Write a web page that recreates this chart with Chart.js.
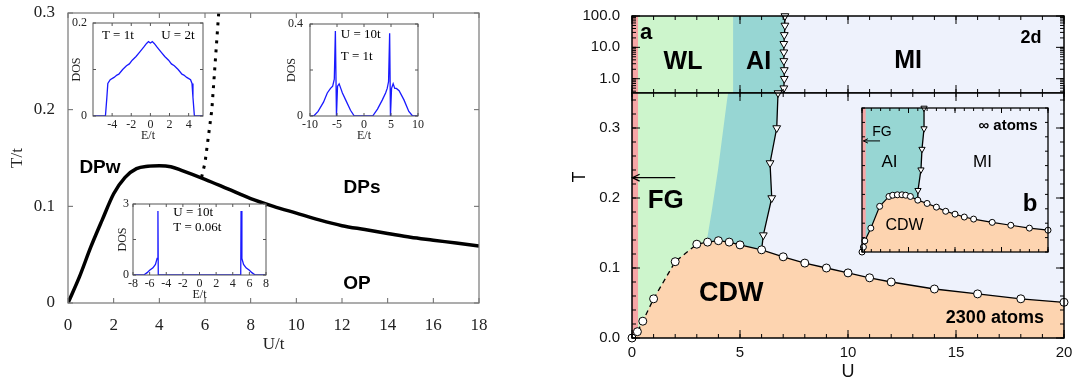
<!DOCTYPE html>
<html>
<head>
<meta charset="utf-8">
<script src="https://cdn.jsdelivr.net/npm/chart.js@4"></script>
<style>
  body { margin: 0; width: 1088px; height: 383px; background: #fff; position: relative; overflow: hidden; }
  canvas { position: absolute; }
</style>
</head>
<body>
<canvas id="cLeft" style="left:0px;top:0px" width="500" height="383"></canvas>
<canvas id="cIn1" style="left:55px;top:15px" width="160" height="130"></canvas>
<canvas id="cIn2" style="left:265px;top:15px" width="165" height="130"></canvas>
<canvas id="cIn3" style="left:90px;top:195px" width="190" height="112"></canvas>
<canvas id="cTop" style="left:560px;top:0px" width="528" height="100"></canvas>
<canvas id="cBot" style="left:560px;top:80px" width="528" height="303"></canvas>
<canvas id="cInB" style="left:850px;top:100px" width="210" height="162"></canvas>
<script>
// ---------- LEFT PANEL : T/t vs U/t ----------
const phaseU = [0, 0.5, 1, 1.5, 2, 2.5, 3, 3.5, 4, 4.5, 5, 6, 7, 8, 9, 10, 11, 12, 13, 14, 15, 16, 17, 18];
const phaseT = [0, 0.027, 0.058, 0.086, 0.113, 0.130, 0.139, 0.1415, 0.142, 0.141, 0.137, 0.128, 0.118, 0.108, 0.100, 0.093, 0.086, 0.080, 0.076, 0.072, 0.068, 0.065, 0.062, 0.059];
const dotU = [5.85, 6.0, 6.3, 6.6];
const dotT = [0.13, 0.145, 0.2, 0.3];
const leftUTicks = [0, 2, 4, 6, 8, 10, 12, 14, 16, 18];
const leftTTicks = [0, 0.1, 0.2, 0.3];

// DOS insets (E/t, DOS)
const dos1E = [-6, -4.7, -4.55, -4.45, -4.2, -3.8, -3.5, -3.3, -2.9, -2.5, -2.2, -1.9, -1.5, -1.1, -0.7, -0.4, -0.2, 0, 0.2, 0.4, 0.7, 1.1, 1.5, 1.9, 2.2, 2.5, 2.9, 3.3, 3.5, 3.8, 4.2, 4.35, 4.45, 4.6, 5.5];
const dos1V = [0, 0, 0.04, 0.07, 0.078, 0.083, 0.088, 0.09, 0.1, 0.108, 0.112, 0.12, 0.128, 0.138, 0.148, 0.156, 0.16, 0.157, 0.16, 0.156, 0.148, 0.138, 0.128, 0.12, 0.112, 0.108, 0.1, 0.09, 0.088, 0.083, 0.078, 0.07, 0.04, 0, 0];
const dos2E = [-10, -9.3, -8.5, -7.5, -6.8, -6.2, -5.8, -5.5, -5.3, -5.1, -4.9, -4.6, -4.3, -4.0, -3.4, -2.5, -1.8, 0, 1.6, 2.5, 3.4, 4.0, 4.3, 4.55, 4.75, 4.9, 5.1, 5.4, 5.7, 6.0, 6.5, 7.4, 8.3, 9.0, 10];
const dos2V = [0, 0, 0.02, 0.06, 0.1, 0.12, 0.13, 0.16, 0.37, 0, 0.13, 0.14, 0.12, 0.1, 0.07, 0.025, 0, 0, 0, 0.03, 0.07, 0.1, 0.12, 0.15, 0.36, 0, 0.12, 0.14, 0.12, 0.12, 0.11, 0.07, 0.02, 0, 0];
const dos3E = [-8, -6.7, -6.3, -6.0, -5.6, -5.3, -5.1, -5.0, -4.96, 0, 4.96, 5.0, 5.1, 5.3, 5.6, 6.0, 6.3, 6.7, 8];
const dos3V = [0, 0, 0.1, 0.2, 0.3, 0.45, 0.7, 2.7, 0, 0, 0, 2.7, 0.7, 0.45, 0.3, 0.2, 0.1, 0, 0];
const in1ETicks = [-4, -2, 0, 2, 4];
const in2ETicks = [-10, -5, 0, 5, 10];
const in3ETicks = [-8, -6, -4, -2, 0, 2, 4, 6, 8];

// ---------- RIGHT PANEL : T vs U ----------
const cdwU = [0, 0.25, 0.5, 1, 2, 3, 3.5, 4, 4.5, 5, 6, 7, 8, 9, 10, 11, 12, 14, 16, 18, 20];
const cdwT = [0, 0.009, 0.024, 0.056, 0.109, 0.134, 0.137, 0.139, 0.137, 0.133, 0.126, 0.116, 0.107, 0.100, 0.093, 0.086, 0.080, 0.070, 0.063, 0.056, 0.051];
const triTopU = [7.08, 7.08, 7.05, 7.03, 7.03, 7.03, 7.05, 7.05, 7.03];
const triTopT = [100, 50, 25, 13, 7, 3.7, 1.9, 1, 0.5];
const triBotU = [6.76, 6.70, 6.39, 6.47, 6.08];
const triBotT = [0.35, 0.30, 0.25, 0.20, 0.147];
const wlEdgeU = [4.45, 4.40, 3.98, 3.70, 3.47, 3.2, 3.2];
const wlEdgeT = [0.35, 0.34, 0.24, 0.183, 0.14, 0.1, 0];
const wlTopEdge = 4.68;
const fgEdge = 0.28;
// inset b (infinite system)
const insU = [0, 0.15, 0.3, 0.95, 1.9, 2.9, 3.3, 3.8, 4.3, 4.7, 5.2, 6, 7, 8, 9, 10, 11, 12, 14, 16, 18, 20];
const insT = [0, 0.012, 0.027, 0.058, 0.111, 0.135, 0.138, 0.139, 0.139, 0.138, 0.135, 0.126, 0.118, 0.109, 0.099, 0.092, 0.085, 0.080, 0.072, 0.065, 0.058, 0.053];
const insTriU = [6.67, 6.67, 6.45, 6.34, 6.02];
const insTriT = [0.35, 0.30, 0.25, 0.20, 0.15];
const insFgEdge = 0.4;
const rightUTicks = [0, 5, 10, 15, 20];
const rightTTicks = [0, 0.1, 0.2, 0.3];
const topTTicks = [1, 10, 100];

// colours
const cWL = '#cdf5cc', cAI = '#97d6d3', cMI = '#eef2fc', cFG = '#f6a6a6', cCDW = '#fdd4b0';
const blue = '#1a1aff';

// ---------- helpers ----------
const zip = (xs, ys) => xs.map((x, i) => ({ x, y: ys[i] }));
const pts = arr => arr.map(([x, y]) => ({ x, y }));
function range(a, b, st) { const out = []; for (let v = a; v <= b + st / 1000; v += st) out.push(+v.toFixed(6)); return out; }
function logTicks(lo, hi) {
  const out = [];
  for (let d = 0.1; d < hi; d *= 10)
    for (let m = 1; m < 10; m++) { const v = +(m * d).toPrecision(3); if (v >= lo && v <= hi) out.push(v); }
  out.push(hi);
  return out;
}
// fixed axis sizes, no extra layout padding from the labels
const fixW = w => s => { s.width = w; s.paddingTop = 0; s.paddingBottom = 0; };
const fixH = h => s => { s.height = h; s.paddingLeft = 0; s.paddingRight = 0; };
const setTicks = arr => s => { s.ticks = arr.map(v => ({ value: v })); };
const tk = (axis, values, len) => ({ axis, values, len });
const region = (data, color) => ({ data, fill: 'shape', backgroundColor: color, borderColor: 'rgba(0,0,0,0)', borderWidth: 0, pointRadius: 0 });
const area = (data, color) => ({ data, fill: 'origin', backgroundColor: color, borderColor: 'rgba(0,0,0,0)', borderWidth: 0, pointRadius: 0 });

// inward ticks + frame
const inTicks = {
  id: 'inTicks',
  afterDatasetsDraw(chart, args, o) {
    if (!o || !o.list) return;
    const { ctx, chartArea: a } = chart;
    ctx.save();
    ctx.strokeStyle = o.color || '#000';
    ctx.lineWidth = o.width || 1;
    for (const t of o.list) {
      const s = chart.scales[t.axis];
      for (const v of t.values) {
        const p = s.getPixelForValue(v);
        ctx.beginPath();
        if (t.axis === 'x') {
          ctx.moveTo(p, a.bottom); ctx.lineTo(p, a.bottom - t.len);
          ctx.moveTo(p, a.top); ctx.lineTo(p, a.top + t.len);
        } else {
          ctx.moveTo(a.left, p); ctx.lineTo(a.left + t.len, p);
          ctx.moveTo(a.right, p); ctx.lineTo(a.right - t.len, p);
        }
        ctx.stroke();
      }
    }
    ctx.strokeStyle = o.box || '#000';
    ctx.lineWidth = o.boxWidth || 1;
    ctx.strokeRect(a.left, a.top, a.width, a.height);
    ctx.restore();
  }
};

// white plot background for insets
const plotBg = {
  id: 'plotBg',
  beforeDraw(chart, args, o) {
    if (!o || !o.color) return;
    const { ctx, chartArea: a } = chart;
    ctx.save(); ctx.fillStyle = o.color; ctx.fillRect(a.left, a.top, a.width, a.height); ctx.restore();
  }
};

// text labels and arrows
const notes = {
  id: 'notes',
  afterDraw(chart, args, o) {
    if (!o) return;
    const { ctx } = chart;
    const sx = chart.scales.x, sy = chart.scales.y;
    ctx.save();
    (o.arrows || []).forEach(a => {
      const x1 = sx.getPixelForValue(a.from[0]), y1 = sy.getPixelForValue(a.from[1]);
      const x2 = sx.getPixelForValue(a.to[0]), y2 = sy.getPixelForValue(a.to[1]);
      ctx.strokeStyle = '#000'; ctx.lineWidth = a.w || 1.2;
      ctx.beginPath(); ctx.moveTo(x1, y1); ctx.lineTo(x2, y2); ctx.stroke();
      const ang = Math.atan2(y2 - y1, x2 - x1), h = a.head || 7;
      ctx.beginPath();
      ctx.moveTo(x2 - h * Math.cos(ang - 0.45), y2 - h * Math.sin(ang - 0.45));
      ctx.lineTo(x2, y2);
      ctx.lineTo(x2 - h * Math.cos(ang + 0.45), y2 - h * Math.sin(ang + 0.45));
      ctx.stroke();
    });
    (o.items || []).forEach(n => {
      const px = n.px ? n.px[0] : sx.getPixelForValue(n.at[0]);
      const py = n.px ? n.px[1] : sy.getPixelForValue(n.at[1]);
      ctx.save();
      ctx.font = n.font; ctx.fillStyle = n.color || '#000';
      ctx.textAlign = n.align || 'center'; ctx.textBaseline = 'middle';
      ctx.translate(px, py);
      if (n.rot) ctx.rotate(n.rot);
      ctx.fillText(n.text, 0, 0);
      ctx.restore();
    });
    ctx.restore();
  }
};

Chart.register(inTicks, plotBg, notes);

const serif = 'Liberation Serif', sans = 'Liberation Sans';
const base = (pad, plugins, scales) => ({
  responsive: false, animation: false, events: [],
  layout: { padding: pad },
  plugins: Object.assign({ legend: { display: false }, tooltip: { enabled: false } }, plugins),
  scales
});
const noGrid = { grid: { display: false, drawTicks: false }, border: { display: false } };

// ---------- left main ----------
new Chart(document.getElementById('cLeft'), {
  type: 'line',
  data: { datasets: [
    { data: zip(phaseU, phaseT), borderColor: '#000', borderWidth: 3.5, pointRadius: 0, cubicInterpolationMode: 'monotone', fill: false },
    { data: zip(dotU, dotT), borderColor: '#000', borderWidth: 3, borderDash: [3, 6], pointRadius: 0, fill: false }
  ] },
  options: base({ left: 0, top: 13, right: 21, bottom: 25 }, {
    inTicks: { list: [tk('x', leftUTicks, 5), tk('y', leftTTicks, 5)], color: '#666', box: '#777', boxWidth: 1.2 },
    notes: { items: [
      { text: 'DPw', at: [1.4, 0.140], font: 'bold 19px "Liberation Sans"' },
      { text: 'DPs', at: [12.88, 0.119], font: 'bold 19px "Liberation Sans"' },
      { text: 'OP', at: [12.66, 0.0197], font: 'bold 19px "Liberation Sans"' }
    ] }
  }, {
    x: Object.assign({ type: 'linear', min: 0, max: 18, afterFit: fixH(55), afterBuildTicks: setTicks(leftUTicks),
      ticks: { font: { family: serif, size: 17 }, color: '#222', padding: 12, maxRotation: 0, autoSkip: false },
      title: { display: true, text: 'U/t', font: { family: serif, size: 17 }, color: '#222', padding: { top: 0, bottom: 3 } } }, noGrid),
    y: Object.assign({ min: 0, max: 0.3, afterFit: fixW(68), afterBuildTicks: setTicks(leftTTicks),
      ticks: { font: { family: serif, size: 17 }, color: '#222', padding: 13, callback: v => String(+v.toFixed(2)) },
      title: { display: true, text: 'T/t', font: { family: serif, size: 17 }, color: '#222', padding: { top: 7, bottom: 0 } } }, noGrid)
  })
});

// ---------- DOS insets ----------
function dosInset(id, E, V, xr, xt, ymax, pad, yw, xh, tickPad, titlePad, items) {
  new Chart(document.getElementById(id), {
    type: 'line',
    data: { datasets: [{ data: zip(E, V), borderColor: blue, borderWidth: 1.3, pointRadius: 0, fill: false }] },
    options: base(pad, {
      plotBg: { color: '#fff' },
      inTicks: { list: [tk('x', xt, 3), tk('y', [0, ymax / 2, ymax], 3)], color: '#555', box: '#555', boxWidth: 1 },
      notes: { items }
    }, {
      x: Object.assign({ type: 'linear', min: xr[0], max: xr[1], afterFit: fixH(xh), afterBuildTicks: setTicks(xt),
        ticks: { font: { family: serif, size: 12 }, color: '#222', padding: 2, maxRotation: 0, autoSkip: false },
        title: { display: true, text: 'E/t', font: { family: serif, size: 12 }, color: '#222', padding: { top: 0, bottom: titlePad[1] } } }, noGrid),
      y: Object.assign({ min: 0, max: ymax, afterFit: fixW(yw), afterBuildTicks: setTicks([0, ymax]),
        ticks: { font: { family: serif, size: 12 }, color: '#222', padding: tickPad, callback: v => String(v) },
        title: { display: true, text: 'DOS', font: { family: serif, size: 12 }, color: '#222', padding: { top: titlePad[0], bottom: 0 } } }, noGrid)
    })
  });
}
const insetFont = '13px "Liberation Serif"';
dosInset('cIn1', dos1E, dos1V, [-6, 5.5], in1ETicks, 0.2, { left: 0, top: 8, right: 12, bottom: 1 }, 38, 28, 6, [15, 1], [
  { text: 'T = 1t', at: [-3.4, 0.172], font: insetFont },
  { text: 'U = 2t', at: [2.87, 0.172], font: insetFont }
]);
dosInset('cIn2', dos2E, dos2V, [-10, 10], in2ETicks, 0.4, { left: 0, top: 9, right: 12, bottom: 1 }, 45, 28, 7, [20, 1], [
  { text: 'U = 10t', at: [-4.3, 0.352], font: insetFont, align: 'left' },
  { text: 'T = 1t', at: [-4.3, 0.259], font: insetFont, align: 'left' }
]);
dosInset('cIn3', dos3E, dos3V, [-8, 8], in3ETicks, 3, { left: 0, top: 9, right: 14, bottom: 1 }, 43, 31, 4, [26, 4], [
  { text: 'U = 10t', at: [-3.15, 2.62], font: insetFont, align: 'left' },
  { text: 'T = 0.06t', at: [-3.15, 1.99], font: insetFont, align: 'left' }
]);

// ---------- right top (log T) ----------
const triStyle = {
  borderColor: '#000', borderWidth: 1.3, pointStyle: 'triangle', rotation: 180,
  pointBackgroundColor: '#fff', pointBorderColor: '#000', pointBorderWidth: 1, fill: false, clip: false
};
const topLine = zip(triTopU, triTopT).concat([{ x: triBotU[0], y: triBotT[0] }]);
new Chart(document.getElementById('cTop'), {
  type: 'line',
  data: { datasets: [
    Object.assign({ data: topLine, pointRadius: c => c.dataIndex === topLine.length - 1 ? 0 : 4.5 }, triStyle),
    region(pts([[0, 0.35], [fgEdge, 0.35], [fgEdge, 100], [0, 100]]), cFG),
    region(pts([[0, 0.35], [wlTopEdge, 0.35], [wlTopEdge, 100], [0, 100]]), cWL),
    region([{ x: 0, y: 100 }].concat(topLine, [{ x: 0, y: 0.35 }]), cAI),
    region(pts([[0, 0.35], [20, 0.35], [20, 100], [0, 100]]), cMI)
  ] },
  options: base({ left: 0, top: 16, right: 24, bottom: 7 }, {
    inTicks: { list: [tk('x', range(0, 20, 1), 4), tk('x', rightUTicks, 8), tk('y', logTicks(0.35, 100), 4), tk('y', topTTicks, 8)], color: '#000', box: '#000', boxWidth: 1.5 },
    notes: { items: [
      { text: 'a', at: [0.65, 28.7], font: 'bold 22px "Liberation Sans"' },
      { text: 'WL', at: [2.36, 3.41], font: 'bold 25px "Liberation Sans"' },
      { text: 'AI', at: [5.86, 3.41], font: 'bold 25px "Liberation Sans"' },
      { text: 'MI', at: [12.78, 3.67], font: 'bold 25px "Liberation Sans"' },
      { text: '2d', at: [18.47, 19.9], font: 'bold 18px "Liberation Sans"' }
    ] }
  }, {
    x: { type: 'linear', min: 0, max: 20, display: false },
    y: Object.assign({ type: 'logarithmic', min: 0.35, max: 100, afterFit: fixW(72), afterBuildTicks: setTicks(topTTicks),
      ticks: { font: { family: sans, size: 15 }, color: '#111', padding: 12, callback: v => Number(v).toFixed(1) } }, noGrid)
  })
});

// ---------- right bottom (linear T) ----------
const joint = { x: cdwU[10], y: cdwT[10] };
const botLine = zip(triBotU, triBotT).concat([joint]);
const circleStyle = {
  borderColor: '#000', borderWidth: 1.3, pointRadius: 4, pointBackgroundColor: '#fff',
  pointBorderColor: '#000', pointBorderWidth: 1, clip: false, fill: false
};
new Chart(document.getElementById('cBot'), {
  type: 'line',
  data: { datasets: [
    Object.assign({ data: zip(cdwU, cdwT), segment: { borderDash: c => c.p1.parsed.x <= 3 ? [5, 4] : undefined } }, circleStyle),
    Object.assign({ data: botLine, pointRadius: c => c.dataIndex === botLine.length - 1 ? 0 : 4.5 }, triStyle),
    area(zip(cdwU, cdwT), cCDW),
    region(pts([[0, 0], [fgEdge, 0], [fgEdge, 0.35], [0, 0.35]]), cFG),
    region([{ x: 0, y: 0.35 }].concat(zip(wlEdgeU, wlEdgeT), [{ x: 0, y: 0 }]), cWL),
    region([{ x: 0, y: 0.35 }].concat(botLine, [{ x: joint.x, y: 0 }, { x: 0, y: 0 }]), cAI),
    region(pts([[0, 0], [20, 0], [20, 0.35], [0, 0.35]]), cMI)
  ] },
  options: base({ left: 0, top: 13, right: 24, bottom: 0 }, {
    inTicks: { list: [tk('x', range(0, 20, 1), 4), tk('x', rightUTicks, 8), tk('y', range(0, 0.34, 0.02), 4), tk('y', rightTTicks, 8)], color: '#000', box: '#000', boxWidth: 1.5 },
    notes: {
      arrows: [{ from: [2.0, 0.229], to: [0.02, 0.229], w: 1.3, head: 8 }],
      items: [
        { text: 'FG', at: [1.56, 0.196], font: 'bold 26px "Liberation Sans"' },
        { text: 'CDW', at: [4.6, 0.064], font: 'bold 27px "Liberation Sans"' },
        { text: '2300 atoms', at: [16.8, 0.028], font: 'bold 18px "Liberation Sans"' },
        { text: 'T', px: [20, 97], font: '18px "Liberation Sans"', rot: -Math.PI / 2 }
      ] }
  }, {
    x: Object.assign({ type: 'linear', min: 0, max: 20, afterFit: fixH(45), afterBuildTicks: setTicks(rightUTicks),
      ticks: { font: { family: sans, size: 15 }, color: '#111', padding: 6, maxRotation: 0, autoSkip: false },
      title: { display: true, text: 'U', font: { family: sans, size: 18 }, color: '#111', padding: { top: 0, bottom: 0 } } }, noGrid),
    y: Object.assign({ min: 0, max: 0.35, afterFit: fixW(72), afterBuildTicks: setTicks(rightTTicks),
      ticks: { font: { family: sans, size: 15 }, color: '#111', padding: 12, callback: v => Number(v).toFixed(1) } }, noGrid)
  })
});

// ---------- inset b ----------
const insJoint = { x: insU[11], y: insT[11] };
const insLine = zip(insTriU, insTriT).concat([insJoint]);
new Chart(document.getElementById('cInB'), {
  type: 'line',
  data: { datasets: [
    Object.assign({ data: zip(insU, insT) }, circleStyle, { pointRadius: 3, borderWidth: 1.2 }),
    Object.assign({ data: insLine }, triStyle, { pointRadius: c => c.dataIndex === insLine.length - 1 ? 0 : 3.6 }),
    area(zip(insU, insT), cCDW),
    region(pts([[0, 0], [insFgEdge, 0], [insFgEdge, 0.35], [0, 0.35]]), cFG),
    region([{ x: 0, y: 0.35 }].concat(insLine, [{ x: insJoint.x, y: 0 }, { x: 0, y: 0 }]), cAI),
    region(pts([[0, 0], [20, 0], [20, 0.35], [0, 0.35]]), cMI)
  ] },
  options: base({ left: 12, top: 8, right: 12, bottom: 10 }, {
    inTicks: { list: [tk('x', range(0, 20, 1), 3), tk('x', rightUTicks, 5), tk('y', range(0, 0.35, 0.035), 3)], color: '#000', box: '#000', boxWidth: 1.3 },
    notes: {
      arrows: [{ from: [1.94, 0.27], to: [0.15, 0.27], w: 1, head: 5 }],
      items: [
        { text: 'FG', at: [2.15, 0.292], font: '14px "Liberation Sans"' },
        { text: 'AI', at: [2.96, 0.217], font: '17px "Liberation Sans"' },
        { text: 'MI', at: [12.96, 0.217], font: '17px "Liberation Sans"' },
        { text: '\u221e atoms', at: [15.7, 0.307], font: 'bold 15px "Liberation Sans"' },
        { text: 'b', at: [18.06, 0.116], font: 'bold 24px "Liberation Sans"' },
        { text: 'CDW', at: [4.57, 0.065], font: '16px "Liberation Sans"' }
      ] }
  }, {
    x: { type: 'linear', min: 0, max: 20, display: false },
    y: { min: 0, max: 0.35, display: false }
  })
});
</script>
</body>
</html>
